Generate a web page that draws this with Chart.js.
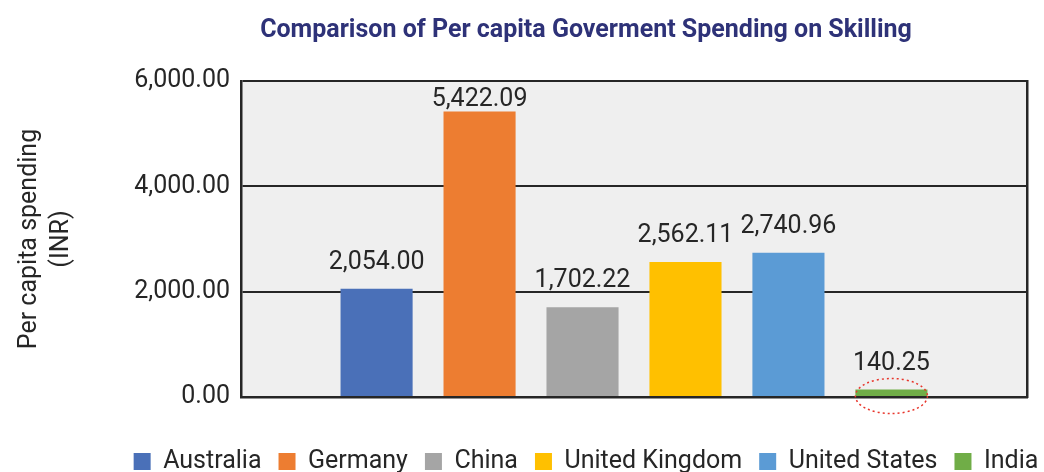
<!DOCTYPE html>
<html>
<head>
<meta charset="utf-8">
<script src="https://cdn.jsdelivr.net/npm/chart.js@4"></script>
<style>
  html, body { margin: 0; padding: 0; overflow: hidden; background: #fff; }
  #wrap { width: 1172px; height: 484px; position: relative; }
</style>
</head>
<body>
<div id="wrap"><canvas id="chart"></canvas></div>
<script>
let countries = ['Australia', 'Germany', 'China', 'United Kingdom', 'United States', 'India'];
let spending = [2054.00, 5422.09, 1702.22, 2562.11, 2740.96, 140.25];
let barColors = ['#4a70b8', '#ed7d31', '#a5a5a5', '#ffc000', '#5b9bd5', '#70ad47'];
let yTicks = [0, 2000, 4000, 6000];

let textColor = '#262626';
let lineColor = '#262626';

function formatValue(v) {
  return v.toLocaleString('en-US', { minimumFractionDigits: 2, maximumFractionDigits: 2 });
}

function buildDatasets() {
  return countries.map((name, i) => ({
    label: name,
    data: [spending[i]],
    backgroundColor: barColors[i],
    borderWidth: 0
  }));
}

const plotBackground = {
  id: 'plotBackground',
  beforeDraw(chart) {
    const { ctx, chartArea } = chart;
    ctx.save();
    ctx.fillStyle = '#efefef';
    ctx.fillRect(chartArea.left, chartArea.top, chartArea.right - chartArea.left, chartArea.bottom - chartArea.top);
    ctx.restore();
  }
};

const valueLabels = {
  id: 'valueLabels',
  afterDatasetsDraw(chart) {
    const { ctx, chartArea } = chart;
    ctx.save();
    ctx.font = '25px Roboto';
    ctx.fillStyle = textColor;
    ctx.textAlign = 'center';
    ctx.textBaseline = 'alphabetic';
    chart.data.datasets.forEach((ds, i) => {
      const bar = chart.getDatasetMeta(i).data[0];
      const y = Math.max(bar.y - 20, chartArea.top + 25);
      ctx.fillText(formatValue(ds.data[0]), bar.x, y);
    });
    ctx.restore();
  }
};

const highlightIndia = {
  id: 'highlightIndia',
  afterDraw(chart) {
    const idx = countries.indexOf('India');
    const bar = chart.getDatasetMeta(idx).data[0];
    const ctx = chart.ctx;
    ctx.save();
    ctx.strokeStyle = '#e8352b';
    ctx.lineWidth = 1.5;
    ctx.setLineDash([2, 3]);
    ctx.beginPath();
    ctx.ellipse(bar.x, bar.base, bar.width / 2, 17.5, 0, 0, Math.PI * 2);
    ctx.stroke();
    ctx.restore();
  }
};

new Chart(document.getElementById('chart'), {
  type: 'bar',
  data: {
    labels: [''],
    datasets: buildDatasets()
  },
  plugins: [plotBackground, valueLabels, highlightIndia],
  options: {
    responsive: true,
    maintainAspectRatio: false,
    animation: false,
    categoryPercentage: 0.786,
    barPercentage: 0.70,
    layout: { padding: 0 },
    plugins: {
      tooltip: { enabled: false },
      title: {
        display: true,
        text: 'Comparison of Per capita Goverment Spending on Skilling',
        color: '#2e3278',
        font: { family: 'Roboto', size: 25, weight: 'bold', lineHeight: 1.2 },
        padding: { top: 16, bottom: 35 }
      },
      legend: {
        position: 'bottom',
        labels: {
          color: textColor,
          font: { family: 'Roboto', size: 25 },
          boxWidth: 17,
          boxHeight: 17,
          padding: 17
        }
      }
    },
    scales: {
      x: {
        z: 1,
        grid: { display: false },
        ticks: { display: false },
        border: { display: true, color: lineColor, width: 2.5 },
        afterFit: (scale) => { scale.height = 35; }
      },
      y: {
        min: 0,
        max: 6000,
        afterBuildTicks: (scale) => { scale.ticks = yTicks.map(v => ({ value: v })); },
        grid: { color: lineColor, lineWidth: 2, drawTicks: false },
        border: { display: true, color: lineColor, width: 2.5 },
        ticks: {
          color: textColor,
          padding: 11,
          font: { family: 'Roboto', size: 25 },
          callback: (v) => formatValue(v)
        },
        title: {
          display: true,
          text: ['Per capita spending', '(INR)'],
          color: textColor,
          font: { family: 'Roboto', size: 25, lineHeight: 1.3 },
          padding: { top: 13, bottom: 0 }
        },
        afterFit: (scale) => { scale.width = 241; }
      },
      y2: {
        position: 'right',
        min: 0,
        max: 6000,
        display: true,
        grid: { display: false, drawTicks: false },
        ticks: { display: false },
        border: { display: true, color: lineColor, width: 2.5 },
        afterFit: (scale) => { scale.width = 145; }
      }
    }
  }
});
</script>
</body>
</html>
